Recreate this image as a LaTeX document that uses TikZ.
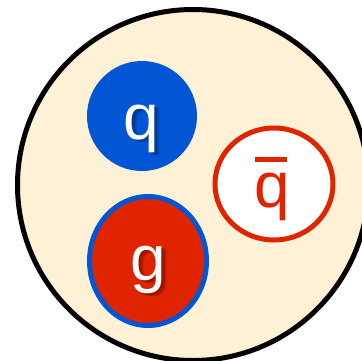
\documentclass[tikz,border=0pt]{standalone}
\usepackage{fontspec}
\setmainfont{Liberation Sans}
\usetikzlibrary{shapes.geometric}
\definecolor{cream}{HTML}{FFF1D6}
\definecolor{qblue}{HTML}{0256D4}
\definecolor{gred}{HTML}{E02400}
\definecolor{shblue}{HTML}{0A2A6A}
\definecolor{shred}{HTML}{6A1000}
\tikzset{
  particle/.style={ellipse, inner sep=0pt},
  lbl/.style={anchor=base, inner sep=0pt, font=\fontsize{64}{64}\selectfont},
}
\newcommand{\barq}{\rlap{\hspace{0.5pt}\raisebox{45pt}{\rule{32pt}{5pt}}}q}
\begin{document}
\begin{tikzpicture}[x=1pt,y=-1pt]
\useasboundingbox (0,0) rectangle (362,360);
\node[circle, draw=black, fill=cream, line width=5pt, minimum size=351pt, inner sep=0pt] (hadron) at (193,185) {};
\node[particle, fill=qblue, minimum width=110pt, minimum height=110pt] (q) at (142,116) {};
\node[particle, fill=gred, draw=qblue, line width=5pt, minimum width=117pt, minimum height=129pt] (g) at (148,261) {};
\node[particle, fill=white, draw=gred, line width=5pt, minimum width=118pt, minimum height=112pt] (qb) at (274,184) {};
% labels with drop shadows
\node[lbl, text=shblue, opacity=0.3] (qs1) at (146.5,142.5) {q};
\node[lbl, text=shblue, opacity=0.45] (qs2) at (144.5,141) {q};
\node[lbl, text=white] (ql) at (141,139) {q};
\node[lbl, text=shred, opacity=0.3] (gs1) at (153.5,283.5) {g};
\node[lbl, text=shred, opacity=0.45] (gs2) at (151.5,282) {g};
\node[lbl, text=white] (gl) at (148,280) {g};
\node[lbl, text=gred] (qbl) at (272,207) {\barq};
\end{tikzpicture}
\end{document}
